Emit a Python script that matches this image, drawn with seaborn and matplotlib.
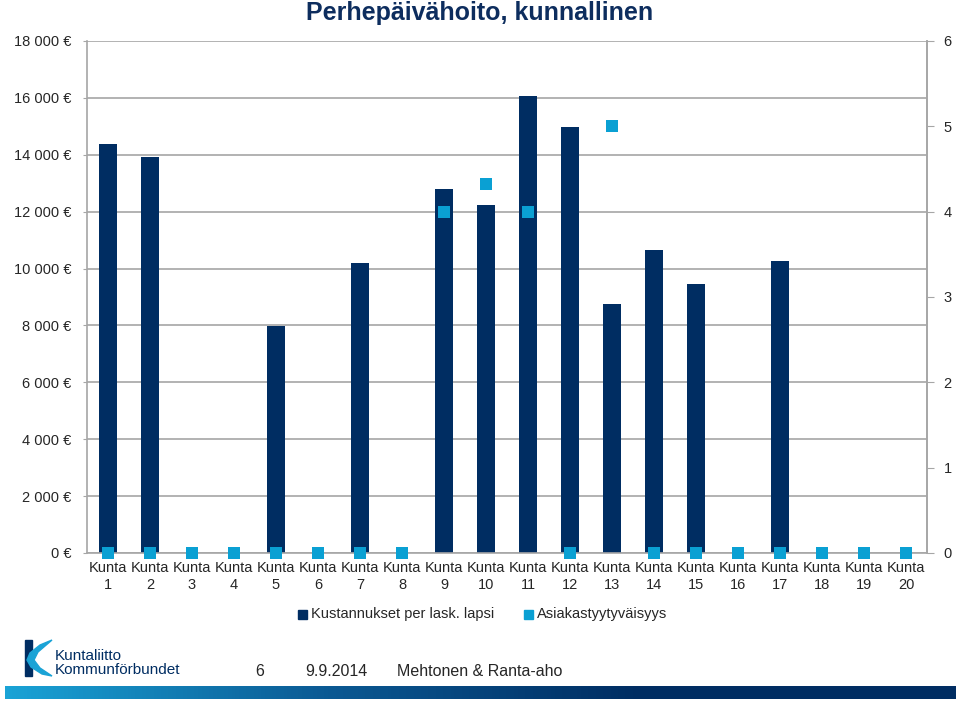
import numpy as np
import pandas as pd
import matplotlib
matplotlib.use("Agg")
import matplotlib.pyplot as plt
import seaborn as sns
from matplotlib.patches import Rectangle, Polygon
from matplotlib.colors import LinearSegmentedColormap

# ==========================================
# Data
# ==========================================
MUNICIPALITIES = [f"Kunta\n{i}" for i in range(1, 21)]
COST_PER_CHILD = [14380, 13920, 0, 0, 7980, 0, 10200, 0, 12790, 12250,
                  16080, 14960, 8750, 10650, 9460, 0, 10270, 0, 0, 0]
SATISFACTION = [0, 0, 0, 0, 0, 0, 0, 0, 4.0, 4.33,
                4.0, 0, 5.0, 0, 0, 0, 0, 0, 0, 0]
LEFT_TICKS = list(range(0, 18001, 2000))
RIGHT_TICKS = list(range(0, 7))

BAR_COLOR = "#002D62"
SQUARE_COLOR = "#0AA0D3"
GRID_COLOR = "#A6A6A6"
TEXT_COLOR = "#262626"

df = pd.DataFrame({"kunta": MUNICIPALITIES,
                   "kustannus": COST_PER_CHILD,
                   "tyytyvaisyys": SATISFACTION})

# ==========================================
# Figure
# ==========================================
sns.set_style("white")
plt.rcParams["font.family"] = ["Liberation Sans", "DejaVu Sans"]

fig = plt.figure(figsize=(9.6, 7.01), dpi=100)
ax = fig.add_axes([87 / 960, 1 - 553 / 701, 840 / 960, 512 / 701])

sns.barplot(data=df, x="kunta", y="kustannus", color=BAR_COLOR,
            width=0.42, saturation=1, linewidth=0, ax=ax, zorder=2)

ax.set_ylim(0, 18000)
ax.set_yticks(LEFT_TICKS)
ax.set_yticklabels([f"{v:,}".replace(",", " ") + " €" if v else "0 €" for v in LEFT_TICKS],
                   fontsize=10.5, color=TEXT_COLOR)
ax.yaxis.grid(True, color=GRID_COLOR, linewidth=1.2, zorder=0)
ax.set_axisbelow(True)
ax.set_xlabel("")
ax.set_ylabel("")
ax.tick_params(axis="x", length=0, labelsize=10.5, labelcolor=TEXT_COLOR, pad=6)
ax.tick_params(axis="y", length=3, color=GRID_COLOR, pad=8)
for side in ["left", "bottom", "right"]:
    ax.spines[side].set_color(GRID_COLOR)
    ax.spines[side].set_linewidth(1.2)
ax.spines["top"].set_visible(False)

ax2 = ax.twinx()
sns.pointplot(data=df, x="kunta", y="tyytyvaisyys", color=SQUARE_COLOR,
              linestyle="none", marker="s", markersize=8, errorbar=None, ax=ax2)
for line in ax2.lines:
    line.set_clip_on(False)
    line.set_zorder(5)
    line.set_markeredgewidth(0)
ax2.set_ylim(0, 6)
ax2.set_yticks(RIGHT_TICKS)
ax2.set_yticklabels([str(v) for v in RIGHT_TICKS], fontsize=10.5, color=TEXT_COLOR)
ax2.set_ylabel("")
ax2.tick_params(axis="y", length=5, color=GRID_COLOR, pad=7)
ax2.set_xlim(-0.5, len(MUNICIPALITIES) - 0.5)
ax.set_xlim(-0.5, len(MUNICIPALITIES) - 0.5)
for side in ["left", "bottom", "top"]:
    ax2.spines[side].set_visible(False)
ax2.spines["right"].set_color(GRID_COLOR)
ax2.spines["right"].set_linewidth(1.2)

# Title
fig.text(0.5, 1 - 13 / 701, "Perhepäivähoito, kunnallinen", ha="center", va="center",
         fontsize=18, fontweight="bold", color="#0D2D5E")

# Legend
fig.patches.append(Rectangle((298 / 960, 1 - 619 / 701), 9 / 960, 9 / 701,
                             transform=fig.transFigure, color=BAR_COLOR))
fig.text(311 / 960, 1 - 614 / 701, "Kustannukset per lask. lapsi", va="center",
         fontsize=10.5, color=TEXT_COLOR)
fig.patches.append(Rectangle((524 / 960, 1 - 619 / 701), 9 / 960, 9 / 701,
                             transform=fig.transFigure, color=SQUARE_COLOR))
fig.text(537 / 960, 1 - 614 / 701, "Asiakastyytyväisyys", va="center",
         fontsize=10.5, color=TEXT_COLOR)

# Footer logo
fig.patches.append(Rectangle((25 / 960, 1 - 676 / 701), 7 / 960, 36 / 701,
                             transform=fig.transFigure, color=BAR_COLOR))
logo_pts = [(52, 640), (40, 645), (30, 653), (27, 660), (31, 667), (42, 674), (52, 676),
            (40, 668), (34, 660), (38, 652)]
fig.patches.append(Polygon([(x / 960, 1 - y / 701) for x, y in logo_pts], closed=True,
                           transform=fig.transFigure, color="#1AA3D6"))
fig.text(55 / 960, 1 - 656 / 701, "Kuntaliitto", va="center", fontsize=11, color=BAR_COLOR)
fig.text(55 / 960, 1 - 670 / 701, "Kommunförbundet", va="center", fontsize=11, color=BAR_COLOR)

# Footer text
fig.text(255 / 960, 1 - 672 / 701, "6", va="center", fontsize=11.5, color=TEXT_COLOR)
fig.text(305 / 960, 1 - 672 / 701, "9.9.2014", va="center", fontsize=11.5, color=TEXT_COLOR)
fig.text(397 / 960, 1 - 672 / 701, "Mehtonen & Ranta-aho", va="center", fontsize=11.5,
         color=TEXT_COLOR)

# Gradient stripe
stripe = fig.add_axes([5 / 960, 1 - 699 / 701, 950 / 960, 13 / 701])
cmap = LinearSegmentedColormap.from_list("stripe", ["#1AA3D6", "#0B5A94", BAR_COLOR, BAR_COLOR])
stripe.imshow(np.linspace(0, 1, 256).reshape(1, -1), aspect="auto", cmap=cmap)
stripe.axis("off")

fig.savefig("out.png", dpi=100)
